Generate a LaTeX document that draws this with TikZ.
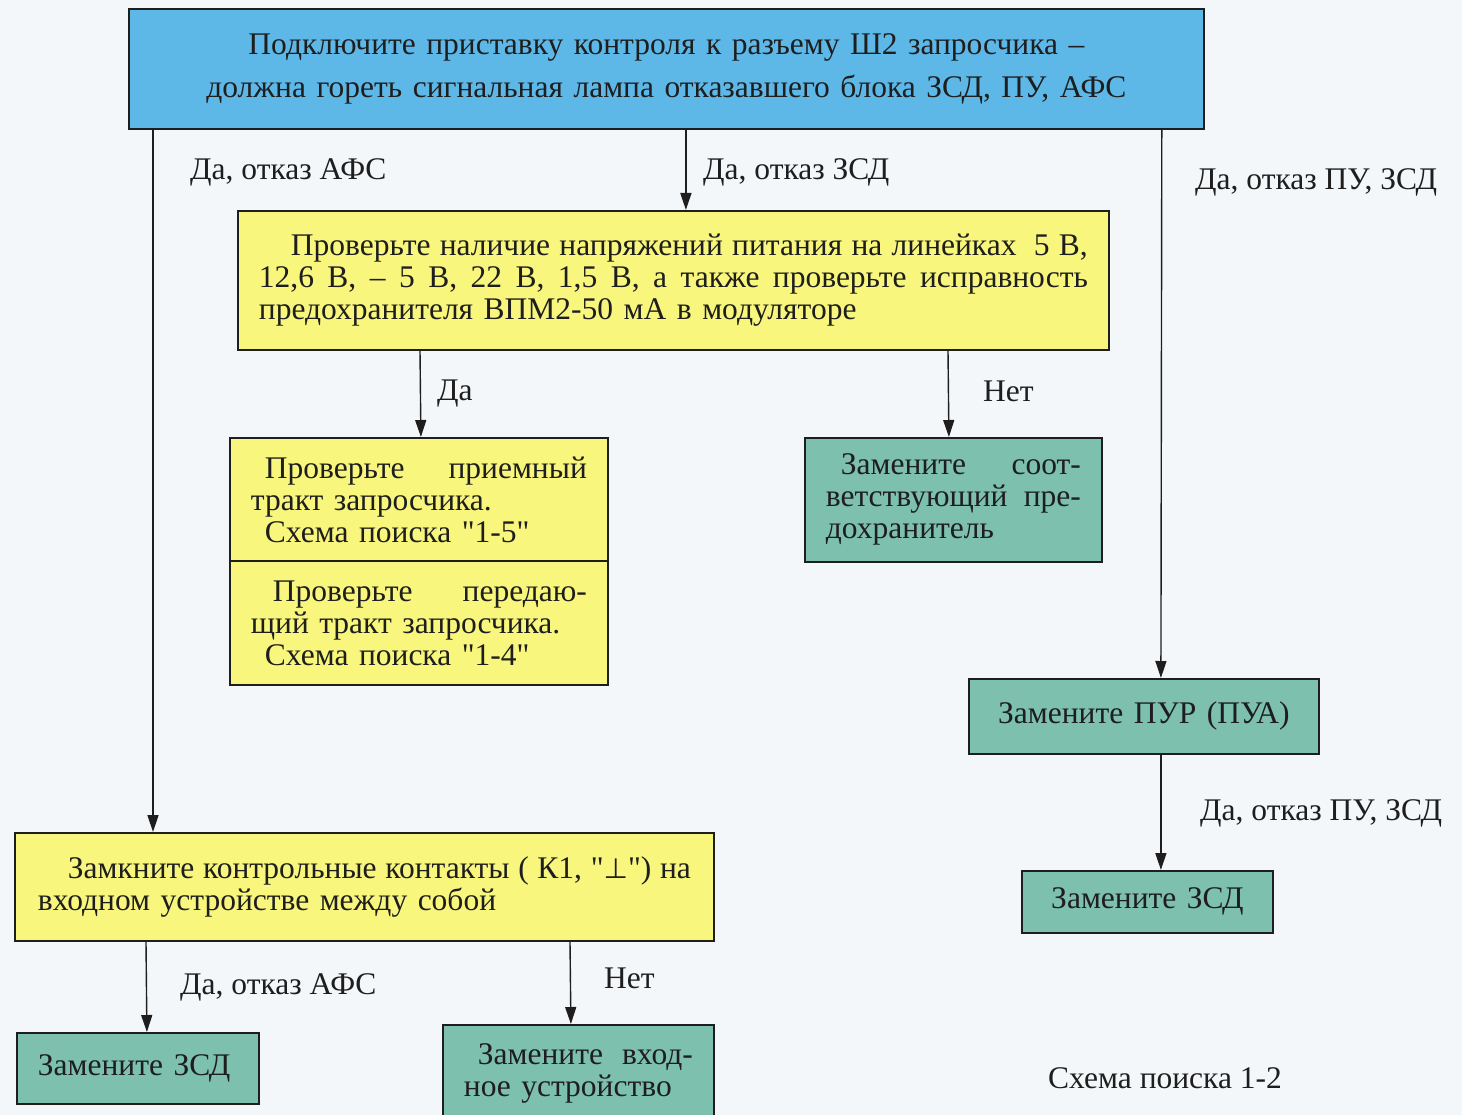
\documentclass[tikz,border=0pt]{standalone}
\usepackage{fontspec}
\setmainfont{Liberation Serif}[Ligatures=TeXOff]
\newfontfamily\symfont{DejaVu Sans}
\usetikzlibrary{arrows.meta}
\definecolor{bgc}{HTML}{F4F7F9}
\definecolor{cblue}{HTML}{5DB8E8}
\definecolor{cyel}{HTML}{F8F67C}
\definecolor{cgrn}{HTML}{7CC0AD}
\definecolor{ink}{HTML}{1E1E1E}
\newcommand\hf{\hfill\ignorespaces}
\begin{document}
\begin{tikzpicture}[x=1pt,y=-1pt,
  box/.style={draw=ink, line width=1.8pt, anchor=north west, inner xsep=21pt, inner ysep=0pt,
    align=left, text=ink, font=\fontsize{31.5}{32}\selectfont},
  bluebox/.style={box, fill=cblue},
  yelbox/.style={box, fill=cyel},
  grnbox/.style={box, fill=cgrn},
  lab/.style={anchor=base west, inner sep=0pt, text=ink, font=\fontsize{31.5}{32}\selectfont},
  arr/.style={draw=ink, line width=1.4pt, -{Triangle[width=11pt,length=17pt]}}]
\useasboundingbox (0,0) rectangle (1462,1115);
\clip (0,0) rectangle (1462,1115);
\fill[bgc] (0,0) rectangle (1462,1115);

% boxes
\node[bluebox, align=center, text width=1033pt, minimum height=120pt, font=\fontsize{31.5}{43}\selectfont] (top) at (128,8)
  {Подключите приставку контроля к разъему Ш2 запросчика –\\должна гореть сигнальная лампа отказавшего блока ЗСД, ПУ, АФС};
\node[yelbox, text width=829pt, minimum height=139pt] (y2) at (237,210)
  {\hspace*{32pt}Проверьте\hf наличие\hf напряжений\hf питания\hf на\hf линейках\hf \hspace{8pt}5\hf В,\\
   12,6\hf В,\hf –\hf 5\hf В,\hf 22\hf В,\hf 1,5\hf В,\hf а\hf также\hf проверьте\hf исправность\\
   предохранителя ВПМ2-50 мА в модуляторе};
\node[yelbox, text width=336pt, minimum height=123pt] (s1) at (229,437)
  {\hspace*{14pt}Проверьте\hf приемный\\
   тракт запросчика.\\
   \hspace*{14pt}Схема поиска "1-5"};
\node[yelbox, text width=336pt, minimum height=124pt] (s2) at (229,560)
  {\hspace*{22pt}Проверьте\hf передаю-\\
   щий тракт запросчика.\\
   \hspace*{14pt}Схема поиска "1-4"};
\node[grnbox, text width=255pt, minimum height=124pt] (g1) at (804,437)
  {\hspace*{15pt}Замените\hf соот-\\
   ветствующий\hf пре-\\
   дохранитель};
\node[grnbox, align=center, text width=308pt, minimum height=75pt] (g2) at (968,678)
  {Замените ПУР (ПУА)};
\node[grnbox, align=center, text width=209pt, minimum height=62pt] (g3) at (1021,870)
  {Замените ЗСД};
\node[yelbox, inner xsep=23pt, text width=653pt, minimum height=108pt] (y3) at (14,832)
  {\hspace*{30pt}Замкните\hf контрольные\hf контакты\hf (\hf К1,\hf "{\symfont\fontsize{28}{32}\selectfont ⊥}")\hf на\\
   входном устройстве между собой};
\node[grnbox, text width=200pt, minimum height=71pt] (g4) at (16,1032)
  {Замените ЗСД};
\node[grnbox, text width=229pt, minimum height=98pt] (g5) at (442,1024)
  {\hspace*{14pt}Замените\hf вход-\\
   ное устройство};

% connectors
\draw[arr] ([xshift=25pt]top.south west) -- ([xshift=139pt]y3.north west);
\draw[arr] ([xshift=19.5pt]top.south) -- ([xshift=12.5pt]y2.north);
\draw[arr] ([xshift=-43pt]top.south east) -- ([xshift=17pt]g2.north);
\draw[arr] ([xshift=183pt]y2.south west) -- ([xshift=2pt]s1.north);
\draw[arr] ([xshift=711pt]y2.south west) -- ([xshift=-4.5pt]g1.north);
\draw[arr] ([xshift=17pt]g2.south) -- ([xshift=13.5pt]g3.north);
\draw[arr] ([xshift=132pt]y3.south west) -- ([xshift=9pt]g4.north);
\draw[arr] ([xshift=556pt]y3.south west) -- ([xshift=-7.5pt]g5.north);

% labels
\node[lab] (l1) at (190,180) {Да, отказ АФС};
\node[lab] (l2) at (703,180) {Да, отказ ЗСД};
\node[lab] (l3) at (1195,190) {Да, отказ ПУ, ЗСД};
\node[lab] (l4) at (437,400) {Да};
\node[lab] (l5) at (983,401) {Нет};
\node[lab] (l6) at (1200,820) {Да, отказ ПУ, ЗСД};
\node[lab] (l7) at (180,994) {Да, отказ АФС};
\node[lab] (l8) at (604,988) {Нет};
\node[lab] (l9) at (1048,1088) {Схема поиска 1-2};
\end{tikzpicture}
\end{document}
